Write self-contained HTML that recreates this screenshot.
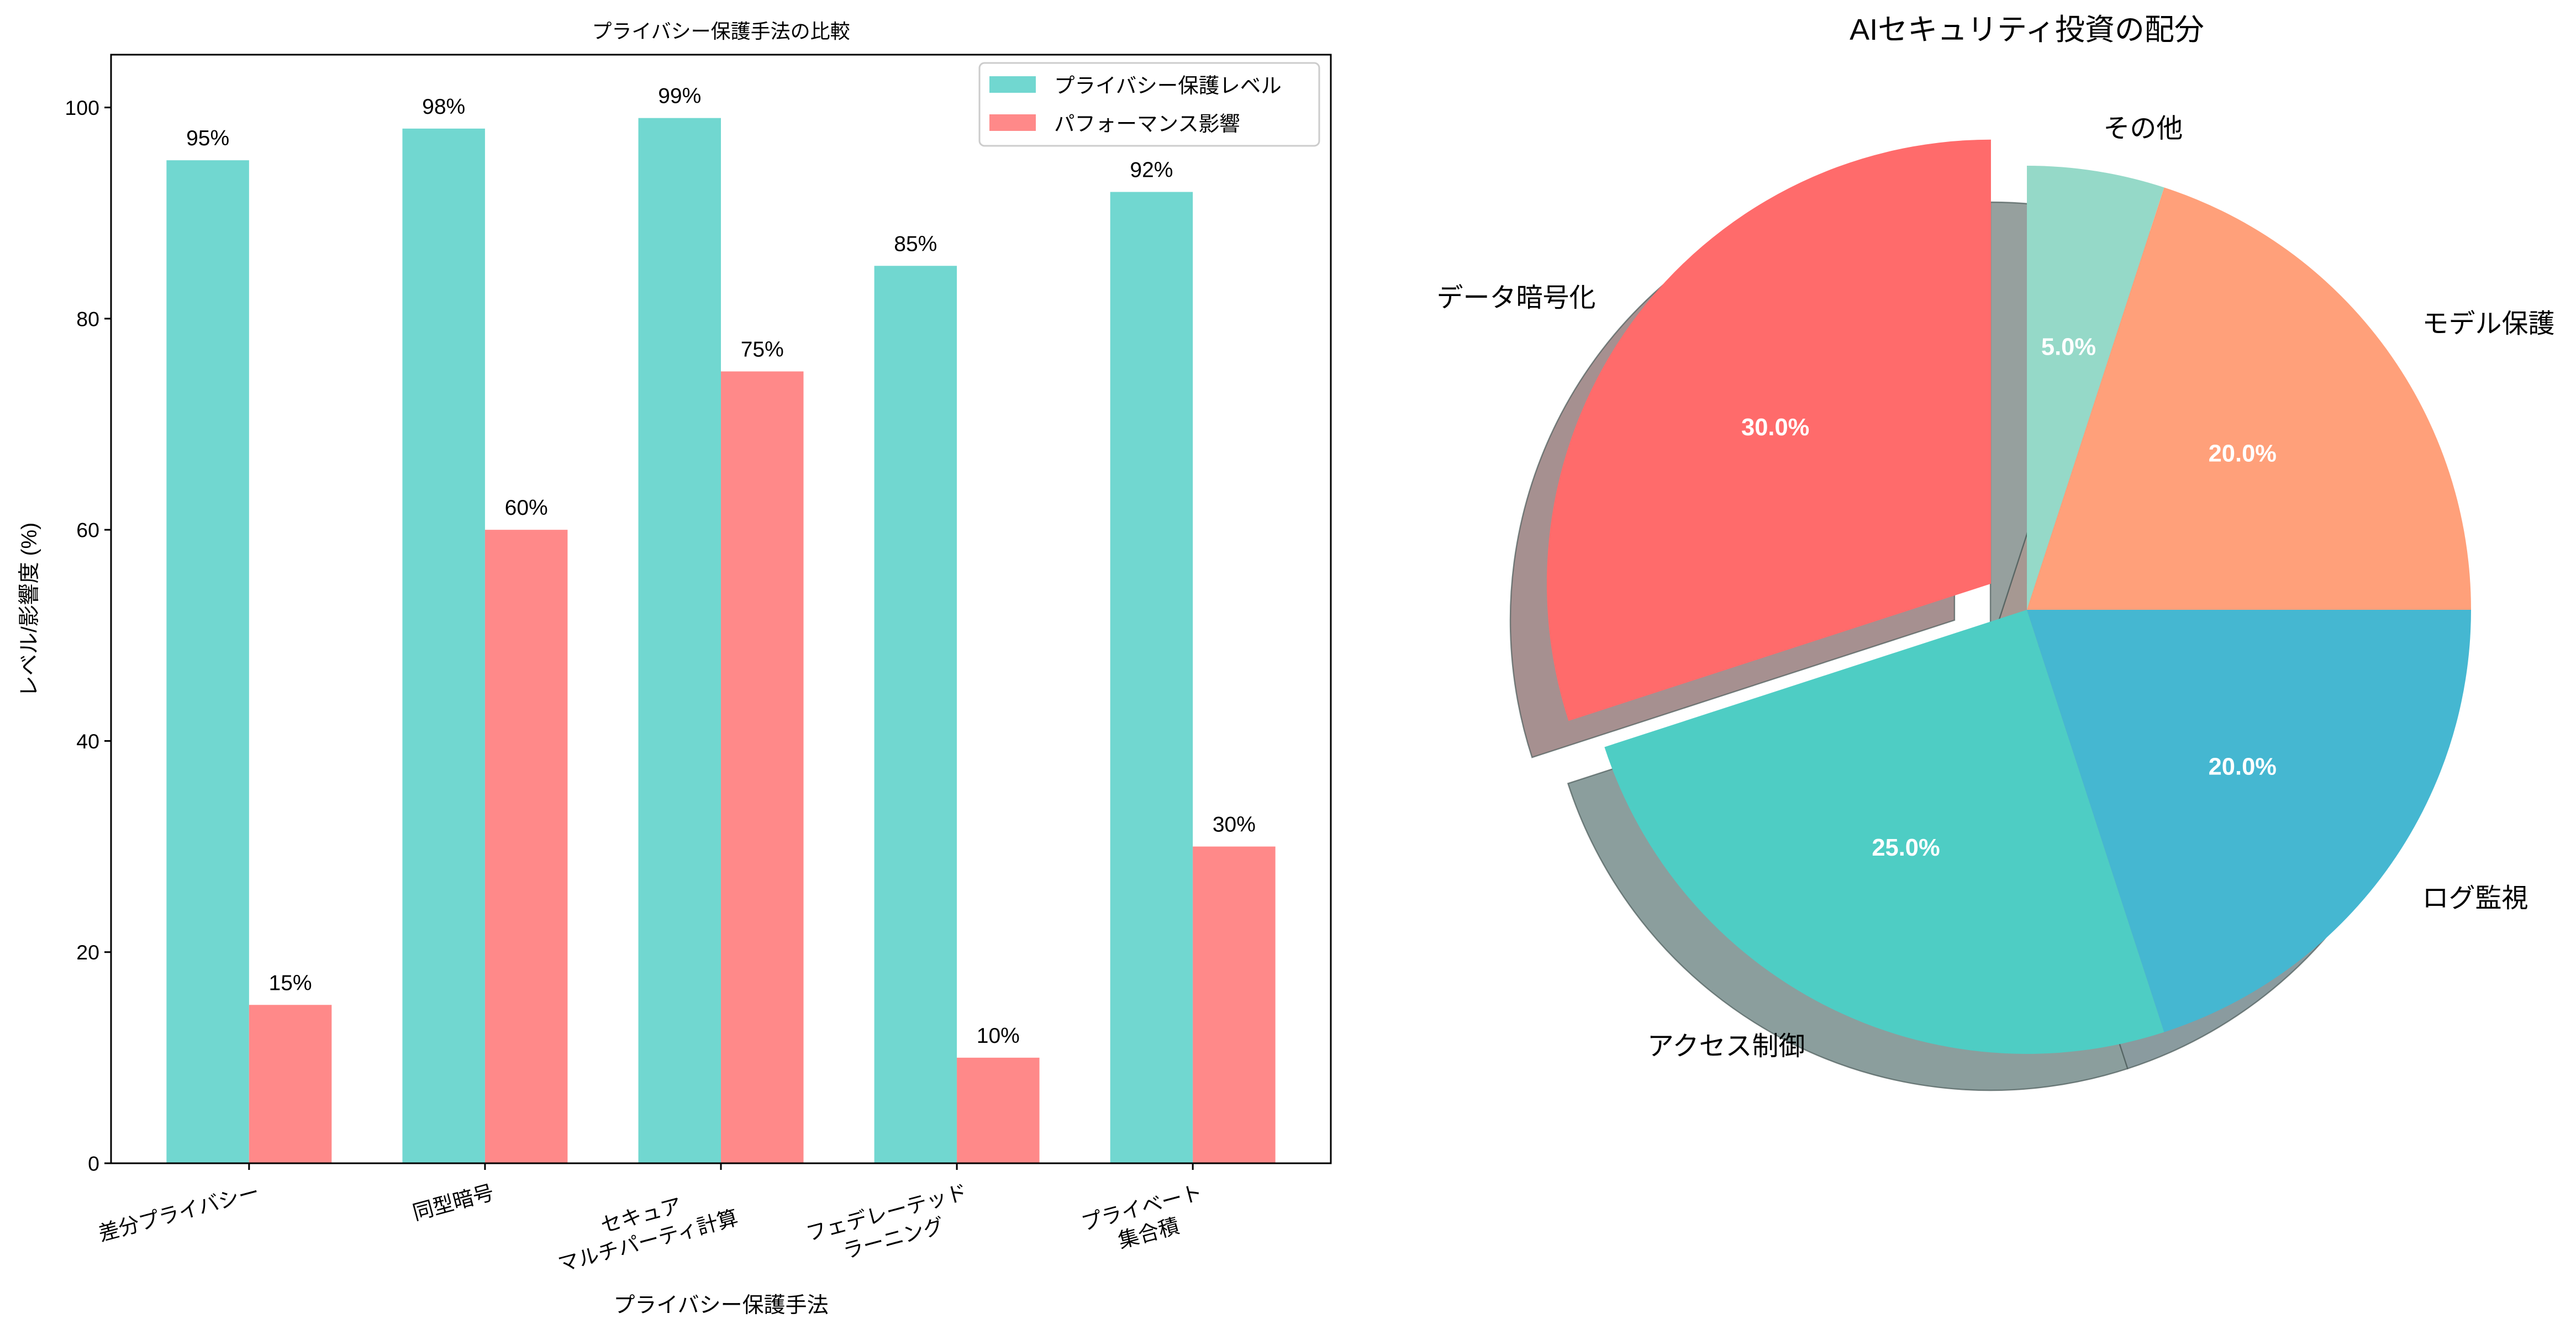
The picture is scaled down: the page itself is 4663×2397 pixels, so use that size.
<!DOCTYPE html>
<html><head><meta charset="utf-8"><style>
body{margin:0;background:#fff}
svg{display:block;font-family:"Liberation Sans","Noto Sans CJK JP",sans-serif}
</style></head><body>
<svg id="fig" width="4663" height="2397" viewBox="0 0 1554.33 799" xmlns="http://www.w3.org/2000/svg">
<rect width="1554.33" height="799" fill="#fff"/>
<g id="bar"></g>
<g id="pie"></g>
</svg>
<script>
const categories=[["差分プライバシー"],["同型暗号"],["セキュア","マルチパーティ計算"],["フェデレーテッド","ラーニング"],["プライベート","集合積"]];
const privacy=[95,98,99,85,92];
const impact=[15,60,75,10,30];
const yTicks=[0,20,40,60,80,100];
const pieLabels=["データ暗号化","アクセス制御","ログ監視","モデル保護","その他"];
const pieValues=[30,25,20,20,5];
const pieColors=["#ff6b6b","#4ecdc4","#45b7d1","#ffa07a","#95d9c8"];
const pieExplode=[0.1,0,0,0,0];

const NS="http://www.w3.org/2000/svg";
function mk(t,a,p,txt){const e=document.createElementNS(NS,t);for(const k in a)e.setAttribute(k,a[k]);if(txt!==undefined)e.textContent=txt;p.appendChild(e);return e;}
// ---- bar chart ----
const B=document.getElementById('bar');
const L=67,R=803,T=33,Bt=702;
const xmin=-0.585,xmax=4.585,ymax=105;
const X=v=>L+(v-xmin)/(xmax-xmin)*(R-L);
const Y=v=>Bt-v/ymax*(Bt-T);
const bw=0.35;
privacy.forEach((v,i)=>{
 const r=mk('rect',{x:X(i-bw),y:Y(v),width:X(i)-X(i-bw),height:Y(0)-Y(v),fill:'#71d7d0'},B);
 
 
 const t=mk('text',{x:X(i-bw/2),y:Y(v)-9,'font-size':13,'text-anchor':'middle'},B,v+'%');
 
 
});
impact.forEach((v,i)=>{
 const r=mk('rect',{x:X(i),y:Y(v),width:X(i+bw)-X(i),height:Y(0)-Y(v),fill:'#ff8989'},B);
 
 
 const t=mk('text',{x:X(i+bw/2),y:Y(v)-9,'font-size':13,'text-anchor':'middle'},B,v+'%');
 
 
});
const ax=mk('rect',{x:L,y:T,width:R-L,height:Bt-T,fill:'none',stroke:'#000','stroke-width':1},B);


yTicks.forEach(v=>{
 mk('line',{x1:L-4,x2:L,y1:Y(v),y2:Y(v),stroke:'#000'},B);
 const t=mk('text',{x:L-7,y:Y(v)+4.5,'font-size':12.5,'text-anchor':'end'},B,v);
 
 
});
categories.forEach((lines,i)=>{
 mk('line',{x1:X(i),x2:X(i),y1:Bt,y2:Bt+4,stroke:'#000'},B);
 const w=Math.max(...lines.map(s=>s.length))*12;
 const g=mk('g',{transform:`translate(${X(i)+2},${Bt+10}) rotate(-15)`},B);
 
 
 lines.forEach((s,j)=>mk('text',{x:-w/2,y:12+j*16,'font-size':12.5,'text-anchor':'middle'},g,s));
});
let t=mk('text',{x:435,y:792,'font-size':13,'text-anchor':'middle'},B,'プライバシー保護手法');

t=mk('text',{x:0,y:0,'font-size':13,'text-anchor':'middle',transform:'translate(22,368) rotate(-90)'},B,'レベル/影響度 (%)');

t=mk('text',{x:435,y:23,'font-size':12,'text-anchor':'middle'},B,'プライバシー保護手法の比較');

const lg=mk('g',{},B);
mk('rect',{x:591,y:38,width:205,height:50,rx:3,fill:'#fff',stroke:'#ccc'},lg);
mk('rect',{x:597,y:46,width:28,height:10,fill:'#71d7d0'},lg);
mk('text',{x:636,y:56,'font-size':12.5},lg,'プライバシー保護レベル');
mk('rect',{x:597,y:69,width:28,height:10,fill:'#ff8989'},lg);
mk('text',{x:636,y:79,'font-size':12.5},lg,'パフォーマンス影響');
// ---- pie ----
const P=document.getElementById('pie');
const cx=1223,cy=368,r=268,sd=22;
const tot=pieValues.reduce((a,b)=>a+b,0);
const geo=[];let a0=90;
pieValues.forEach((v,i)=>{const a1=a0+v/tot*360;const m=(a0+a1)/2*Math.PI/180;
 const ox=cx+pieExplode[i]*r*Math.cos(m),oy=cy-pieExplode[i]*r*Math.sin(m);
 geo.push({a0,a1,m,ox,oy});a0=a1;});
function wedge(g,dx,dy){const p0=g.a0*Math.PI/180,p1=g.a1*Math.PI/180;
 const x0=g.ox+dx+r*Math.cos(p0),y0=g.oy+dy-r*Math.sin(p0),x1=g.ox+dx+r*Math.cos(p1),y1=g.oy+dy-r*Math.sin(p1);
 const large=(g.a1-g.a0)>180?1:0;
 return `M${g.ox+dx},${g.oy+dy}L${x0},${y0}A${r},${r} 0 ${large} 0 ${x1},${y1}Z`;}
function shade(c){const n=parseInt(c.slice(1),16);const f=k=>Math.round(255-(255-((n>>k)&255)*0.3)*0.5);return `rgb(${f(16)},${f(8)},${f(0)})`;}
geo.forEach((g,i)=>{const s=mk('path',{d:wedge(g,-sd,sd),fill:shade(pieColors[i]),stroke:'#4a5a58','stroke-width':0.8,'stroke-opacity':0.7},P);
 });
geo.forEach((g,i)=>{const s=mk('path',{d:wedge(g,0,0),fill:pieColors[i]},P);
 
 const px=g.ox+0.6*r*Math.cos(g.m),py=g.oy-0.6*r*Math.sin(g.m);
 const pt=mk('text',{x:px,y:py+5,'font-size':14.5,'font-weight':'bold',fill:'#fff','text-anchor':'middle'},P,(pieValues[i]/tot*100).toFixed(1)+'%');
 
 const lx=g.ox+1.1*r*Math.cos(g.m),ly=g.oy-1.1*r*Math.sin(g.m);
 const lt=mk('text',{x:lx,y:ly+6,'font-size':16,'text-anchor':Math.cos(g.m)>=0?'start':'end'},P,pieLabels[i]);
 
});
t=mk('text',{x:1223,y:24,'font-size':18,'text-anchor':'middle'},P,'AIセキュリティ投資の配分');

</script>
</body></html>
